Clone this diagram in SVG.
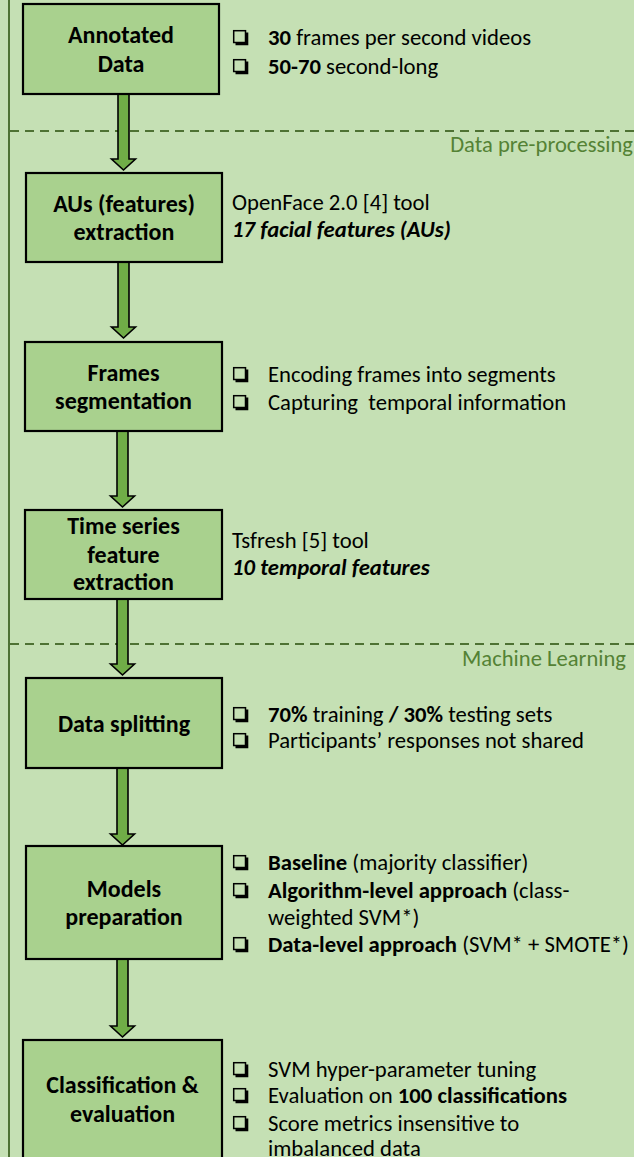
<svg xmlns="http://www.w3.org/2000/svg" xmlns:xlink="http://www.w3.org/1999/xlink" width="634" height="1157" viewBox="0 0 634 1157">
<style>
.bg{fill:#C5E0B4}
.box{fill:#A9D18E;stroke:#000;stroke-width:2.2}
.arrow{fill:#70AD47;stroke:#000;stroke-width:1.6;stroke-linejoin:miter}
.dash{stroke:#4E7233;stroke-width:2.2;stroke-dasharray:9 6;fill:none}
.border{stroke:#4E7233;stroke-width:2}
.title{font-family:Carlito,Lato,"Liberation Sans",sans-serif;font-size:24px;font-weight:bold;fill:#000;text-anchor:middle}
.body{font-family:Carlito,Lato,"Liberation Sans",sans-serif;font-size:22.7px;fill:#000}
.sec{font-family:Carlito,Lato,"Liberation Sans",sans-serif;font-size:22.6px;fill:#548235;text-anchor:end}
.b{font-weight:bold}
.bi{font-weight:bold;font-style:italic}
</style>
<defs>
<g id="chk">
<rect x="0.7" y="0.7" width="11.8" height="11.8" fill="none" stroke="#000" stroke-width="1.5"/>
<path d="M12.5 2.5 H15.3 V15.3 H2.5 V12.5 H12.5 Z" fill="#000"/>
</g>
</defs>
<rect class="bg" x="0" y="0" width="634" height="1157"/>
<line class="border" x1="9" y1="0" x2="9" y2="1157"/>
<g id="separators">
<line class="dash" x1="10" y1="131" x2="634" y2="131"/>
<line class="dash" x1="10" y1="644" x2="634" y2="644"/>
<text class="sec" x="633" y="152">Data pre-processing</text>
<text class="sec" x="626" y="666">Machine Learning</text>
</g>
<g id="connectors">
<polygon class="arrow" points="118,94 129,94 129,159 135.5,159 123.5,170 111.5,159 118,159"/>
<polygon class="arrow" points="118,262 129,262 129,327 135.5,327 123.5,338 111.5,327 118,327"/>
<polygon class="arrow" points="117,431 128,431 128,496 134.5,496 122.5,507 110.5,496 117,496"/>
<polygon class="arrow" points="117,599 128,599 128,664 134.5,664 122.5,675 110.5,664 117,664"/>
<polygon class="arrow" points="117,768 128,768 128,834 134.5,834 122.5,845 110.5,834 117,834"/>
<polygon class="arrow" points="117,959 128,959 128,1026 134.5,1026 122.5,1037 110.5,1026 117,1026"/>
</g>
<g id="annotated-data">
<rect class="box" x="23" y="4" width="196" height="90"/>
<text class="title" x="121" y="43">Annotated</text>
<text class="title" x="121" y="72">Data</text>
<use xlink:href="#chk" x="233" y="30"/>
<use xlink:href="#chk" x="233" y="59"/>
<text class="body" x="268" y="45"><tspan class="b">30</tspan> frames per second videos</text>
<text class="body" x="268" y="74"><tspan class="b">50-70</tspan> second-long</text>
</g>
<g id="aus-extraction">
<rect class="box" x="26" y="173" width="196" height="89"/>
<text class="title" x="124" y="212">AUs (features)</text>
<text class="title" x="124" y="240">extraction</text>
<text class="body" x="232" y="210">OpenFace 2.0 [4] tool</text>
<text class="body bi" x="232" y="237">17 facial features (AUs)</text>
</g>
<g id="frames-segmentation">
<rect class="box" x="25" y="342" width="197" height="89"/>
<text class="title" x="123.5" y="381">Frames</text>
<text class="title" x="123.5" y="409">segmentation</text>
<use xlink:href="#chk" x="233" y="367"/>
<use xlink:href="#chk" x="233" y="395"/>
<text class="body" x="268" y="382">Encoding frames into segments</text>
<text class="body" x="268" y="410" xml:space="preserve">Capturing  temporal information</text>
</g>
<g id="time-series">
<rect class="box" x="25" y="510" width="197" height="89"/>
<text class="title" x="123.5" y="534">Time series</text>
<text class="title" x="123.5" y="563">feature</text>
<text class="title" x="123.5" y="590">extraction</text>
<text class="body" x="232" y="548">Tsfresh [5] tool</text>
<text class="body bi" x="232" y="575">10 temporal features</text>
</g>
<g id="data-splitting">
<rect class="box" x="26" y="678" width="196" height="90"/>
<text class="title" x="124" y="732">Data splitting</text>
<use xlink:href="#chk" x="233" y="707"/>
<use xlink:href="#chk" x="233" y="733"/>
<text class="body" x="268" y="722"><tspan class="b">70%</tspan> training <tspan class="b">/ 30%</tspan> testing sets</text>
<text class="body" x="268" y="748">Participants’ responses not shared</text>
</g>
<g id="models-preparation">
<rect class="box" x="26" y="846" width="196" height="113"/>
<text class="title" x="124" y="897">Models</text>
<text class="title" x="124" y="925">preparation</text>
<use xlink:href="#chk" x="233" y="855"/>
<use xlink:href="#chk" x="233" y="883"/>
<use xlink:href="#chk" x="233" y="937"/>
<text class="body" x="268" y="870"><tspan class="b">Baseline</tspan> (majority classifier)</text>
<text class="body" x="268" y="898"><tspan class="b">Algorithm-level approach</tspan> (class-</text>
<text class="body" x="268" y="925">weighted SVM*)</text>
<text class="body" x="268" y="952"><tspan class="b">Data-level approach</tspan> (SVM* + SMOTE*)</text>
</g>
<g id="classification-evaluation">
<rect class="box" x="23" y="1040" width="199" height="140"/>
<text class="title" x="122.5" y="1093">Classification &amp;</text>
<text class="title" x="122.5" y="1122">evaluation</text>
<use xlink:href="#chk" x="233" y="1062"/>
<use xlink:href="#chk" x="233" y="1088"/>
<use xlink:href="#chk" x="233" y="1116"/>
<text class="body" x="268" y="1077">SVM hyper-parameter tuning</text>
<text class="body" x="268" y="1103">Evaluation on <tspan class="b">100 classifications</tspan></text>
<text class="body" x="268" y="1131">Score metrics insensitive to</text>
<text class="body" x="268" y="1156">imbalanced data</text>
</g>
</svg>
